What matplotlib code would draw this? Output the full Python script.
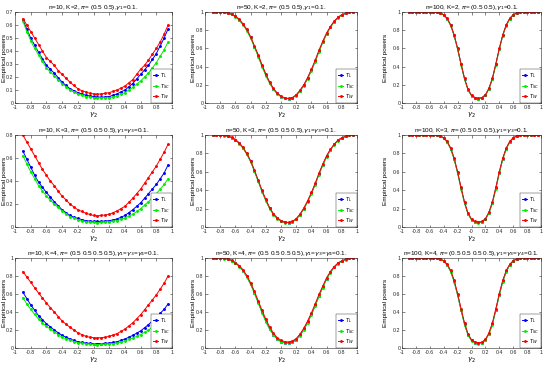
"""Empirical power curves of T_L, T_SC, T_W against gamma_2 (3x3 grid)."""
import numpy as np
import matplotlib
matplotlib.use('Agg')
import matplotlib.pyplot as plt
from matplotlib.ticker import FuncFormatter

plt.rcParams['font.family'] = ['Liberation Sans', 'DejaVu Sans']
plt.rcParams['axes.unicode_minus'] = False

# gamma_2 grid (-0.9 .. 0.95, step 0.05)
gamma2 = np.round(np.arange(-0.9, 0.951, 0.05), 2)

series_names = ['$T_L$', '$T_{SC}$', '$T_W$']
colors = ['#0000ff', '#00ee00', '#ff0000']

ns = [10, 50, 100]
Ks = [2, 3, 4]
pis = ['(0.5 0.5)', '(0.5 0.5 0.5)', '(0.5 0.5 0.5 0.5)']
gams = [r'$\gamma_1$=0.1.', r'$\gamma_1$=$\gamma_3$=0.1.', r'$\gamma_1$=$\gamma_3$=$\gamma_4$=0.1.']
ymax = [[0.7, 1, 1], [0.8, 1, 1], [1, 1, 1]]
ystep = [[0.1, 0.2, 0.2], [0.2, 0.2, 0.2], [0.2, 0.2, 0.2]]

# ---- n = 10 ----
r1c1_L = [.64,.57,.50,.445,.39,.34,.29,.26,.23,.195,.16,.135,.11,.095,.08,.07,.06,.055,.05,.046,.045,.047,.05,.06,.07,.085,.10,.125,.15,.185,.22,.255,.29,.335,.38,.44,.50,.57]
r1c1_SC = [.63,.55,.48,.42,.37,.32,.27,.24,.21,.18,.15,.125,.10,.085,.07,.06,.05,.045,.04,.038,.04,.04,.04,.047,.055,.067,.08,.10,.12,.145,.17,.20,.23,.27,.31,.36,.41,.47]
r1c1_W = [.65,.60,.55,.50,.45,.40,.35,.32,.29,.25,.22,.19,.16,.135,.11,.095,.085,.075,.07,.068,.07,.075,.08,.09,.10,.115,.13,.155,.18,.22,.26,.29,.33,.375,.42,.47,.53,.60]

r2c1_L = [.66,.59,.52,.45,.39,.345,.30,.26,.22,.185,.15,.125,.10,.085,.075,.065,.055,.052,.05,.048,.05,.052,.055,.062,.07,.085,.10,.125,.15,.18,.21,.25,.29,.33,.37,.42,.47,.54]
r2c1_SC = [.62,.55,.48,.42,.36,.315,.27,.235,.20,.17,.14,.115,.09,.077,.065,.055,.045,.042,.04,.038,.04,.042,.045,.05,.055,.067,.08,.095,.11,.135,.16,.19,.22,.255,.29,.33,.37,.42]
r2c1_W = [.80,.74,.68,.62,.56,.50,.45,.40,.36,.31,.27,.235,.20,.175,.15,.135,.12,.11,.10,.098,.10,.105,.11,.125,.14,.16,.18,.215,.25,.29,.33,.38,.43,.48,.53,.59,.65,.72]

r3c1_L = [.62,.55,.48,.42,.36,.315,.27,.235,.20,.17,.14,.12,.10,.085,.07,.062,.055,.052,.05,.048,.05,.052,.055,.062,.07,.085,.10,.12,.14,.165,.19,.225,.26,.30,.34,.385,.43,.49]
r3c1_SC = [.56,.49,.43,.375,.32,.28,.24,.21,.18,.15,.12,.10,.085,.072,.06,.052,.045,.042,.04,.038,.04,.042,.045,.05,.055,.067,.08,.095,.11,.13,.15,.175,.20,.23,.26,.295,.33,.37]
r3c1_W = [.85,.79,.73,.67,.61,.555,.50,.45,.40,.35,.30,.265,.23,.20,.17,.15,.13,.12,.115,.113,.115,.12,.13,.145,.16,.185,.21,.245,.28,.325,.37,.425,.48,.535,.59,.655,.72,.80]

# ---- n = 50 ----
r1c2_L = [1,1,1,.995,.99,.975,.952,.915,.865,.80,.72,.62,.52,.41,.31,.225,.155,.105,.07,.052,.048,.057,.085,.135,.195,.27,.36,.46,.57,.67,.76,.835,.895,.94,.97,.985,.995,1]
r1c2_SC = [1,1,1,.995,.99,.973,.95,.91,.86,.795,.715,.615,.51,.40,.30,.215,.15,.10,.068,.05,.046,.055,.082,.13,.19,.265,.355,.455,.565,.665,.755,.83,.89,.935,.968,.985,.995,1]
r1c2_W = [1,1,1,.995,.99,.975,.955,.92,.87,.81,.73,.63,.53,.42,.32,.23,.16,.11,.075,.055,.05,.06,.09,.14,.20,.28,.37,.47,.58,.68,.77,.84,.90,.94,.97,.985,.995,1]

r2c2_L = [1,1,1,.995,.988,.972,.947,.91,.86,.795,.715,.61,.50,.39,.29,.205,.14,.095,.066,.05,.048,.057,.086,.135,.20,.278,.367,.467,.577,.677,.768,.84,.897,.942,.968,.985,.995,1]
r2c2_SC = [1,1,1,.994,.987,.97,.944,.905,.855,.79,.71,.605,.495,.385,.285,.20,.135,.092,.063,.048,.046,.055,.083,.13,.195,.272,.36,.46,.57,.67,.762,.835,.893,.94,.966,.984,.995,1]
r2c2_W = [1,1,1,.995,.99,.975,.95,.915,.865,.80,.72,.62,.51,.40,.30,.21,.145,.10,.07,.052,.05,.06,.09,.14,.205,.285,.375,.475,.585,.685,.775,.845,.90,.945,.97,.985,.995,1]

r3c2_L = [1,1,1,.995,.988,.972,.946,.908,.86,.795,.712,.615,.508,.40,.30,.215,.15,.102,.072,.058,.056,.066,.093,.142,.207,.285,.375,.475,.58,.678,.77,.842,.898,.94,.967,.984,.995,1]
r3c2_SC = [1,1,1,.994,.987,.97,.943,.904,.855,.79,.706,.608,.50,.392,.292,.208,.144,.097,.068,.054,.052,.062,.089,.137,.201,.279,.368,.468,.574,.672,.765,.838,.895,.938,.965,.983,.995,1]
r3c2_W = [1,1,1,.995,.99,.975,.95,.915,.87,.805,.725,.63,.525,.42,.32,.235,.165,.115,.085,.07,.068,.078,.105,.155,.22,.30,.39,.49,.595,.69,.78,.85,.905,.945,.97,.985,.995,1]

# ---- n = 100 ----
r1c3_L = [1,1,1,1,1,1,1,1,.998,.99,.968,.926,.855,.745,.595,.425,.265,.146,.082,.058,.049,.058,.087,.155,.265,.425,.595,.745,.855,.926,.968,.99,.998,1,1,1,1,1]
r1c3_SC = [1,1,1,1,1,1,1,1,.997,.988,.965,.922,.85,.74,.59,.42,.26,.142,.079,.056,.048,.056,.084,.151,.26,.42,.59,.74,.85,.922,.965,.988,.997,1,1,1,1,1]
r1c3_W = [1,1,1,1,1,1,1,1,.998,.99,.97,.93,.86,.75,.60,.43,.27,.15,.085,.06,.05,.06,.09,.16,.27,.43,.60,.75,.86,.93,.97,.99,.998,1,1,1,1,1]

r2c3_L = [1,1,1,1,1,1,1,1,.998,.99,.967,.925,.853,.742,.59,.42,.262,.144,.081,.057,.049,.057,.086,.153,.262,.42,.59,.742,.853,.925,.967,.99,.998,1,1,1,1,1]
r2c3_SC = [1,1,1,1,1,1,1,1,.997,.988,.964,.92,.848,.737,.585,.415,.257,.14,.078,.055,.047,.055,.083,.149,.257,.415,.585,.737,.848,.92,.964,.988,.997,1,1,1,1,1]
r2c3_W = [1,1,1,1,1,1,1,1,.998,.99,.97,.93,.86,.75,.60,.43,.27,.15,.086,.06,.051,.061,.09,.16,.27,.43,.60,.75,.86,.93,.97,.99,.998,1,1,1,1,1]

r3c3_L = [1,1,1,1,1,1,1,1,.998,.99,.967,.925,.853,.742,.592,.423,.265,.147,.084,.06,.052,.06,.089,.156,.265,.423,.592,.742,.853,.925,.967,.99,.998,1,1,1,1,1]
r3c3_SC = [1,1,1,1,1,1,1,1,.997,.988,.964,.92,.848,.737,.587,.418,.26,.143,.081,.058,.05,.058,.086,.152,.26,.418,.587,.737,.848,.92,.964,.988,.997,1,1,1,1,1]
r3c3_W = [1,1,1,1,1,1,1,1,.998,.99,.97,.93,.862,.753,.605,.437,.276,.156,.092,.066,.057,.066,.096,.166,.276,.437,.605,.753,.862,.93,.97,.99,.998,1,1,1,1,1]

data = [
    [(r1c1_L, r1c1_SC, r1c1_W), (r1c2_L, r1c2_SC, r1c2_W), (r1c3_L, r1c3_SC, r1c3_W)],
    [(r2c1_L, r2c1_SC, r2c1_W), (r2c2_L, r2c2_SC, r2c2_W), (r2c3_L, r2c3_SC, r2c3_W)],
    [(r3c1_L, r3c1_SC, r3c1_W), (r3c2_L, r3c2_SC, r3c2_W), (r3c3_L, r3c3_SC, r3c3_W)],
]

fig = plt.figure(figsize=(5.5, 3.7), dpi=100)
W, H = 550., 370.
col_px = [(15, 172), (205, 357), (402, 541)]
row_px = [(12, 103), (135, 227), (258, 348)]
ylab_off = [8, 9, 14]  # px left of axes for the ylabel

fmt = FuncFormatter(lambda v, p: '%g' % round(v, 3))

for i in range(3):
    for j in range(3):
        x0, x1 = col_px[j]
        y0, y1 = row_px[i]
        ax = fig.add_axes([x0 / W, 1 - y1 / H, (x1 - x0) / W, (y1 - y0) / H])
        for k in range(3):
            ax.plot(gamma2, data[i][j][k], '-', color=colors[k], lw=0.7,
                    marker='.', ms=2.2, label=series_names[k])
        ax.set_xlim(-1, 1)
        ax.set_ylim(0, ymax[i][j])
        ax.set_xticks(np.round(np.arange(-1, 1.01, 0.2), 1))
        ax.set_yticks(np.round(np.arange(0, ymax[i][j] + 1e-9, ystep[i][j]), 1))
        ax.xaxis.set_major_formatter(fmt)
        ax.yaxis.set_major_formatter(fmt)
        ax.tick_params(direction='in', length=1.8, width=0.4, labelsize=3.8,
                       pad=1.2, top=True, right=True, colors='#262626')
        for s in ax.spines.values():
            s.set_linewidth(0.4)
            s.set_color('#262626')
        ax.set_title('n=%d, K=%d, $\\pi$= %s,%s' % (ns[j], Ks[i], pis[i], gams[i]),
                     fontsize=4.6, pad=2.5)
        ax.set_xlabel(r'$\gamma_2$', fontsize=5, labelpad=1)
        ax.set_ylabel('Empirical powers', fontsize=4.6)
        ax.yaxis.set_label_coords(-ylab_off[j] / (x1 - x0), 0.5)
        leg = ax.legend(loc='lower right', fontsize=3.8, handlelength=1.0,
                        borderpad=0.35, labelspacing=0.3, handletextpad=0.3,
                        borderaxespad=0.0, fancybox=False, framealpha=1)
        leg.get_frame().set_linewidth(0.3)
        leg.get_frame().set_edgecolor('#262626')

plt.savefig('out.png', dpi=100)
